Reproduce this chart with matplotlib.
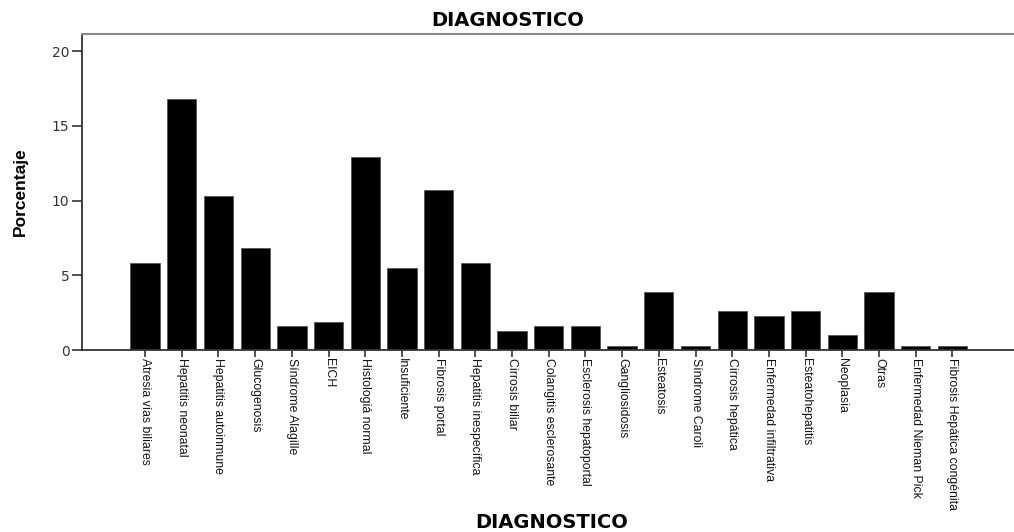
import matplotlib.pyplot as plt

# Diagnostic categories and percentages
categorias = [
    'Atresia vías biliares', 'Hepatitis neonatal', 'Hepatitis autoinmune',
    'Glucogenosis', 'Síndrome Alagille', 'EICH', 'Histologiá normal',
    'Insuficiente', 'Fibrosis portal', 'Hepatitis inespecífica',
    'Cirrosis biliar', 'Colangitis esclerosante', 'Esclerosis hepatoportal',
    'Gangliosidosis', 'Esteatosis', 'Síndrome Caroli', 'Cirrosis hepática',
    'Enfermedad infiltrativa', 'Esteatohepatitis', 'Neoplasia', 'Otras',
    'Enfermedad Nieman Pick', 'Fibrosis Hepática congénita',
]
porcentajes = [5.8, 16.8, 10.3, 6.8, 1.6, 1.9, 12.9, 5.5, 10.7, 5.8,
               1.3, 1.6, 1.6, 0.3, 3.9, 0.3, 2.6, 2.3, 2.6, 1.0, 3.9,
               0.3, 0.3]
y_ticks = [0, 5, 10, 15, 20]

W, H = 1014, 532
fig = plt.figure(figsize=(W / 100, H / 100), dpi=100)
ax = fig.add_axes([82 / W, (H - 350) / H, (W - 82) / W, (350 - 34) / H])

x = range(len(categorias))
ax.bar(x, porcentajes, width=0.8, color='black', edgecolor='#555555', linewidth=0.6)

ax.set_xlim(-1.72, 23.68)
ax.set_ylim(0, 21.14)

ax.set_xticks(list(x))
ax.set_xticklabels(categorias, rotation=270, va='top', ha='center',
                   family=['Liberation Sans', 'DejaVu Sans'],
                   fontsize=8.8, color='#111111')
ax.set_yticks(y_ticks)
ax.set_yticklabels([str(v) for v in y_ticks], family='DejaVu Sans',
                   fontsize=10, color='#333333')

ax.tick_params(axis='x', length=5, width=1.2, color='#333333', pad=1)
ax.tick_params(axis='y', length=7, width=1.2, color='#333333', pad=2)

ax.spines['right'].set_visible(False)
ax.spines['top'].set_color('#888888')
ax.spines['top'].set_linewidth(1.5)
for s in ['left', 'bottom']:
    ax.spines[s].set_color('#333333')
    ax.spines[s].set_linewidth(1.3)

# Titles
fig.text(508 / W, 1 - 21 / H, 'DIAGNOSTICO', ha='center', va='center',
         fontsize=14, fontweight='bold', family='DejaVu Sans')
fig.text(552 / W, 1 - 523 / H, 'DIAGNOSTICO', ha='center', va='center',
         fontsize=14, fontweight='bold', family='DejaVu Sans')
fig.text(20 / W, 1 - 192 / H, 'Porcentaje', ha='center', va='center', rotation=90,
         fontsize=12.5, fontweight='bold',
         family=['Liberation Sans', 'DejaVu Sans'])

fig.savefig('out.png', dpi=100)
